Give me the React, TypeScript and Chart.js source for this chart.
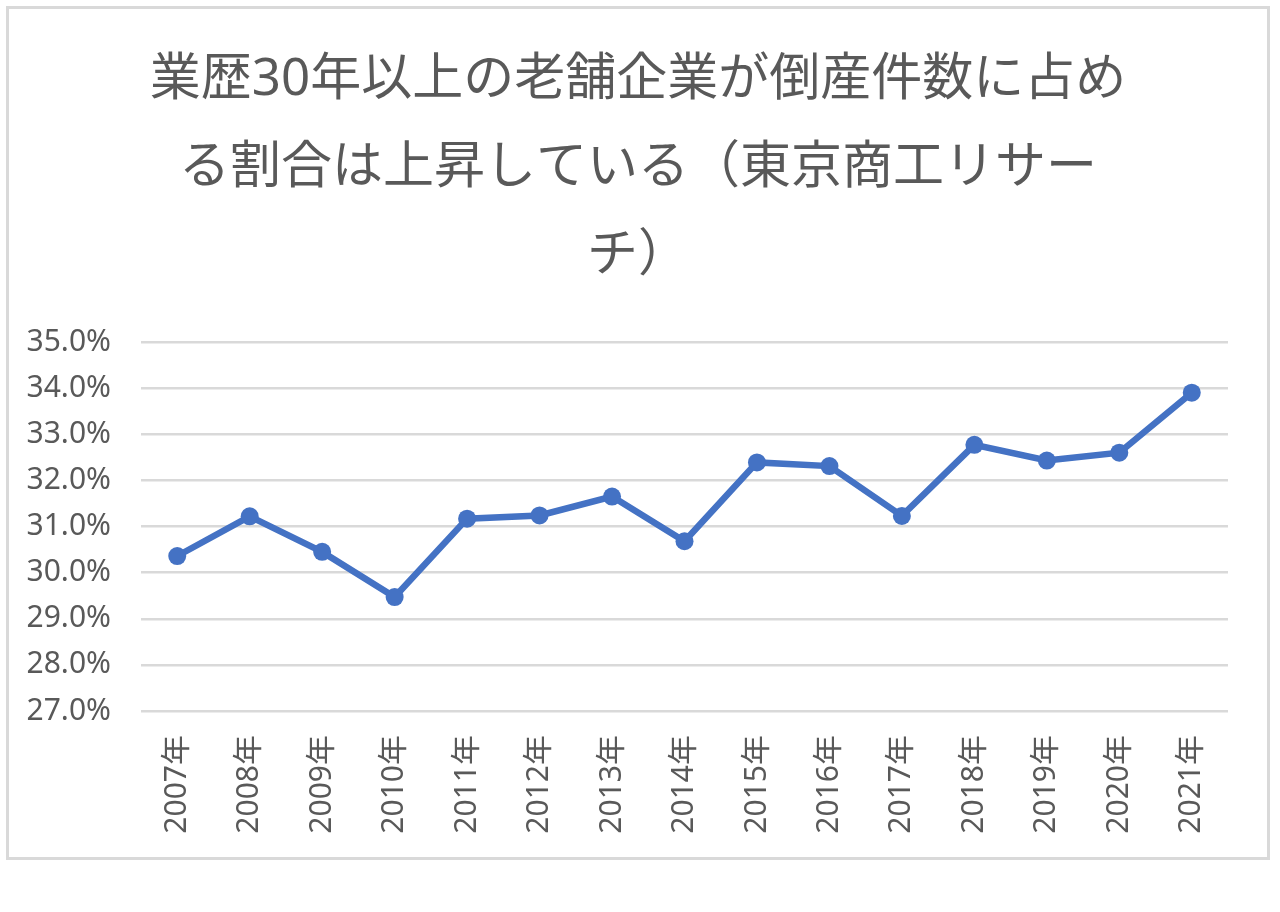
import { Chart, registerables } from 'chart.js'
import { useEffect, useRef } from 'react'

Chart.register(...registerables)

const years = [
  '2007年', '2008年', '2009年', '2010年', '2011年', '2012年', '2013年', '2014年',
  '2015年', '2016年', '2017年', '2018年', '2019年', '2020年', '2021年',
]
const shares = [
  30.36, 31.22, 30.45, 29.47, 31.17, 31.24, 31.65, 30.68,
  32.39, 32.31, 31.23, 32.77, 32.43, 32.6, 33.9,
]
const titleLines = [
  '業歴30年以上の老舗企業が倒産件数に占め',
  'る割合は上昇している（東京商工リサー',
  'チ）',
]
const yMin = 27
const yMax = 35

const gray = '#595959'
const gridGray = '#d9d9d9'
const blue = '#4472c4'
const family = "'Noto Sans', 'Noto Sans CJK JP', sans-serif"

function ShareChart() {
  const ref = useRef<HTMLCanvasElement>(null)

  useEffect(() => {
    if (!ref.current) return
    const chart = new Chart(ref.current, {
      type: 'line',
      data: {
        labels: years,
        datasets: [
          {
            data: shares,
            borderColor: blue,
            backgroundColor: blue,
            borderWidth: 6.5,
            pointRadius: 9,
            pointHoverRadius: 9,
            pointBorderWidth: 0,
            tension: 0,
            fill: false,
          },
        ],
      },
      options: {
        animation: false,
        responsive: true,
        maintainAspectRatio: false,
        layout: { padding: 0 },
        scales: {
          x: {
            offset: true,
            grid: { display: false, drawTicks: false },
            border: { display: false },
            ticks: {
              color: gray,
              font: { family, size: 30 },
              minRotation: 90,
              maxRotation: 90,
              padding: 24,
              autoSkip: false,
            },
            afterFit: (scale) => {
              scale.height = 146
            },
          },
          y: {
            min: yMin,
            max: yMax,
            grid: { color: gridGray, lineWidth: 2.5, drawTicks: false },
            border: { display: false },
            ticks: {
              stepSize: 1,
              color: gray,
              font: { family, size: 30 },
              padding: 30,
              callback: (v) => Number(v).toFixed(1) + '%',
            },
            afterFit: (scale) => {
              scale.width = 132
            },
          },
          // empty right-hand axis, only reserves the right margin so the title stays centred
          yRight: {
            position: 'right',
            min: yMin,
            max: yMax,
            grid: { display: false, drawTicks: false },
            border: { display: false },
            ticks: { display: false },
            afterFit: (scale) => {
              scale.width = 39
            },
          },
        },
        plugins: {
          legend: { display: false },
          tooltip: { enabled: false },
          title: {
            display: true,
            text: titleLines,
            color: gray,
            font: { family, size: 51, weight: 'normal', lineHeight: 88 / 51 },
            padding: { top: 27, bottom: 42 },
          },
        },
      },
    })
    return () => chart.destroy()
  }, [])

  return <canvas ref={ref}></canvas>
}

export default function App() {
  return (
    <div
      style={{
        position: 'absolute',
        left: 6,
        top: 6,
        width: 1258,
        height: 848,
        border: `3px solid ${gridGray}`,
        background: '#fff',
      }}
    >
      <ShareChart />
    </div>
  )
}
